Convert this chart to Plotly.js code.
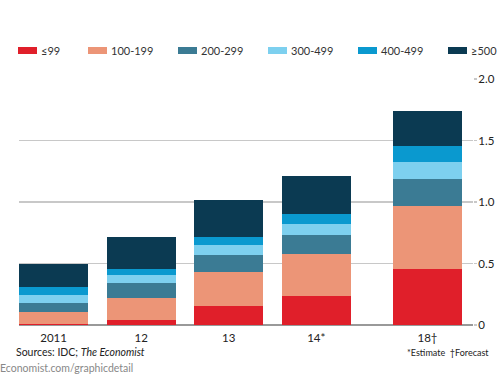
<!DOCTYPE html>
<html><head><meta charset="utf-8">
<script src="https://cdn.plot.ly/plotly-3.0.1.min.js"></script>
<style>html,body{margin:0;padding:0;background:#fff}#chart{width:500px;height:385px}</style>
</head><body><div id="chart"></div>
<script>
const yearLabels = ["2011", "12", "13", "14*", "18†"];
const yearPositions = [0, 1, 2, 3, 4.27];
const bands = ["≤99", "100-199", "200-299", "300-499", "400-499", "≥500"];
const colors = ["#e01f2a", "#ec9577", "#3b7b94", "#7dd0ef", "#0a99cf", "#0b3a52"];
const le99 = [0.005, 0.043, 0.157, 0.236, 0.455];
const v100_199 = [0.100, 0.179, 0.272, 0.341, 0.515];
const v200_299 = [0.073, 0.117, 0.141, 0.157, 0.217];
const v300_499 = [0.065, 0.068, 0.079, 0.087, 0.136];
const v400_499 = [0.062, 0.046, 0.070, 0.081, 0.133];
const ge500 = [0.193, 0.263, 0.296, 0.309, 0.287];
const series = [le99, v100_199, v200_299, v300_499, v400_499, ge500];
const yTicks = [0, 0.5, 1.0, 1.5, 2.0];
const yTickText = ["0", "0.5", "1.0", "1.5", "2.0"];

const font = "Lato, 'Open Sans', sans-serif";
const traces = series.map((vals, i) => ({
  type: "bar", x: yearPositions, y: vals, name: bands[i],
  marker: {color: colors[i], line: {width: 0}}, width: 0.79,
  hoverinfo: "skip", showlegend: false
}));

// legend drawn as shapes + annotations (pixel layout converted to paper coords)
const L = 19, W = 454, B = 325, H = 246;
const px = x => (x - L) / W;
const py = y => (B - y) / H;
const swatchLeft = [18, 88, 178, 268, 358, 448];
const shapes = [], annotations = [];
bands.forEach((b, i) => {
  const x0 = swatchLeft[i];
  shapes.push({type: "rect", xref: "paper", yref: "paper",
    x0: px(x0), x1: px(x0 + 19), y0: py(54), y1: py(47),
    fillcolor: colors[i], line: {width: 0}});
  annotations.push({xref: "paper", yref: "paper", x: px(x0 + 21), y: py(50.5),
    xanchor: "left", yanchor: "middle", text: b, showarrow: false,
    font: {family: font, size: 11, color: "#333"}});
});
annotations.push({xref: "paper", yref: "paper", x: px(14), y: py(352),
  xanchor: "left", yanchor: "middle", showarrow: false,
  text: "Sources: IDC; <i>The Economist</i>", font: {family: font, size: 10.5, color: "#222"}});
annotations.push({xref: "paper", yref: "paper", x: px(-2), y: py(368),
  xanchor: "left", yanchor: "middle", showarrow: false,
  text: "Economist.com/graphicdetail", font: {family: font, size: 10.5, color: "#888"}});
annotations.push({xref: "paper", yref: "paper", x: px(491), y: py(352),
  xanchor: "right", yanchor: "middle", showarrow: false,
  text: "*Estimate  †Forecast", font: {family: font, size: 9, color: "#222"}});

const layout = {
  width: 500, height: 385,
  margin: {l: 19, r: 27, t: 79, b: 60, pad: 0},
  paper_bgcolor: "#fff", plot_bgcolor: "#fff",
  barmode: "stack", bargap: 0.21,
  showlegend: false,
  font: {family: font, size: 11, color: "#222"},
  xaxis: {range: [-0.395, 4.79], tickvals: yearPositions, ticktext: yearLabels,
    showgrid: false, zeroline: false, showline: false, ticks: "", fixedrange: true,
    ticklabelstandoff: 4,
    tickfont: {family: font, size: 11.5, color: "#222"}},
  yaxis: {range: [0, 2.0], side: "right", tickvals: yTicks, ticktext: yTickText,
    showgrid: true, gridcolor: "#c8c8c8", gridwidth: 1.5,
    zeroline: true, zerolinecolor: "#999", zerolinewidth: 2,
    ticks: "outside", ticklen: 3, tickcolor: "#c8c8c8", tickwidth: 1.5,
    ticklabelstandoff: -1,
    showline: false, fixedrange: true,
    tickfont: {family: font, size: 11.5, color: "#222"}},
  shapes: shapes, annotations: annotations
};
Plotly.newPlot("chart", traces, layout, {displayModeBar: false, staticPlot: true});
</script></body></html>
